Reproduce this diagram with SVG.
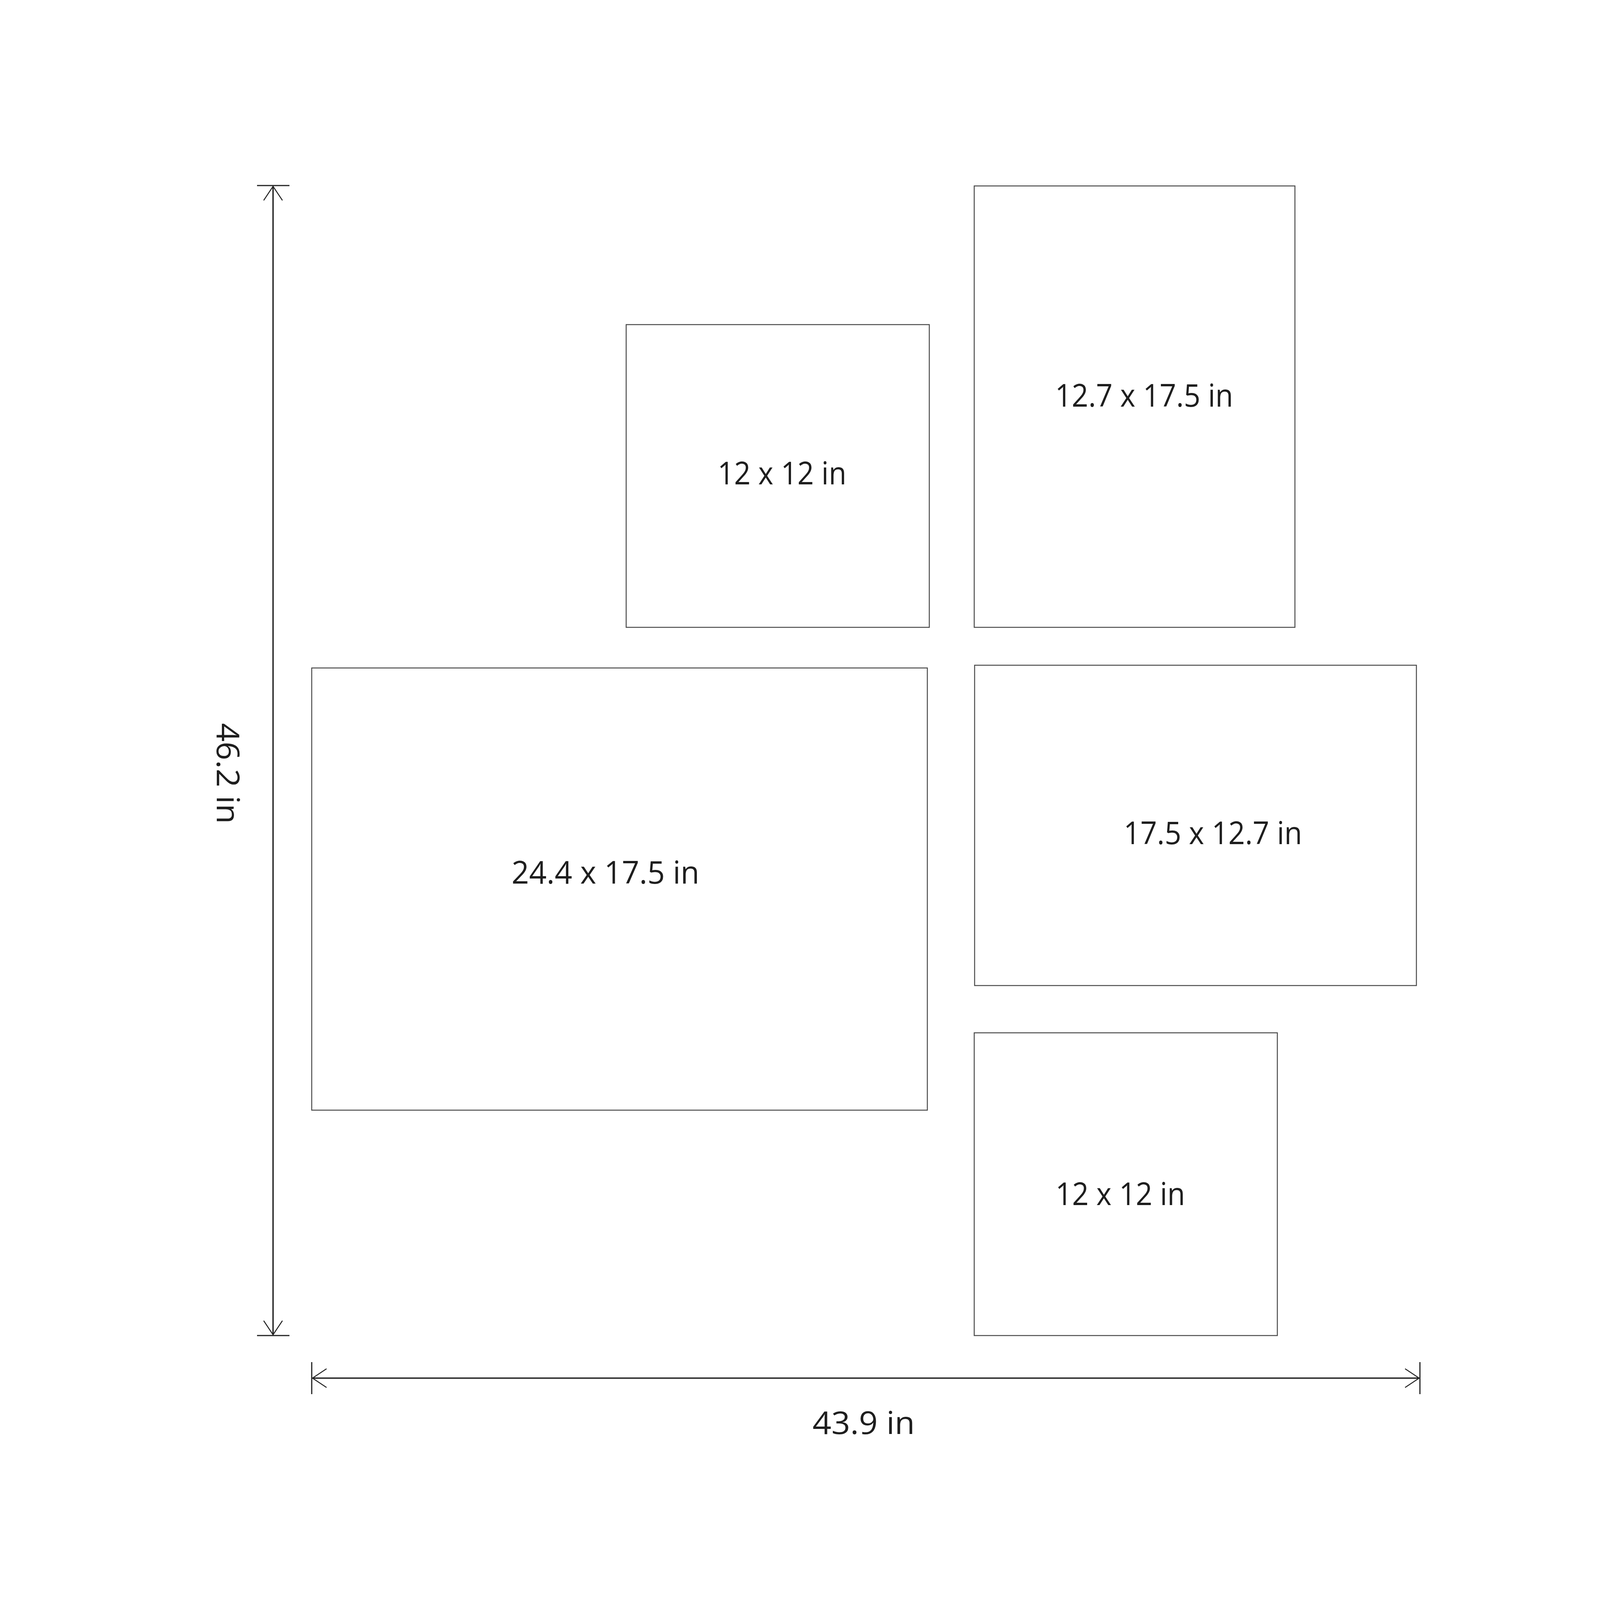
<svg xmlns="http://www.w3.org/2000/svg" width="4169" height="4169" viewBox="0 0 4169 4169">
  <defs>
    <style>
      .frame { fill: none; stroke: #4a4a4a; stroke-width: 2.5; }
      .dim { fill: none; stroke: #222222; stroke-width: 3.5; }
      .tick { fill: none; stroke: #222222; stroke-width: 3; }
      .lbl { font-family: "Open Sans", "Liberation Sans", sans-serif; font-size: 80px; font-weight: 400; fill: #1e1e1e; text-anchor: middle; }
    </style>
    <marker id="chev" viewBox="-40 -30 44 60" refX="0" refY="0" markerWidth="44" markerHeight="60" markerUnits="userSpaceOnUse" orient="auto-start-reverse">
      <path d="M-36,-24 L0,0 L-36,24" fill="none" stroke="#222222" stroke-width="2.5"/>
    </marker>
  </defs>
  <rect width="4169" height="4169" fill="#ffffff"/>

  <g id="connectors">
    <line class="tick" x1="658" y1="475" x2="741" y2="475"/>
    <line class="tick" x1="658" y1="3419" x2="741" y2="3419"/>
    <line class="dim" x1="699" y1="477" x2="699" y2="3417" marker-start="url(#chev)" marker-end="url(#chev)"/>
    <line class="tick" x1="798" y1="3487" x2="798" y2="3569"/>
    <line class="tick" x1="3635" y1="3487" x2="3635" y2="3569"/>
    <line class="dim" x1="800" y1="3528" x2="3633" y2="3528" marker-start="url(#chev)" marker-end="url(#chev)"/>
  </g>

  <g id="frame-12x12-top">
    <rect class="frame" x="1603" y="831" width="776" height="775"/>
    <text class="lbl" x="2002" y="1240" textLength="330" lengthAdjust="spacingAndGlyphs">12 x 12 in</text>
  </g>
  <g id="frame-12-7x17-5">
    <rect class="frame" x="2494" y="476" width="821" height="1130"/>
    <text class="lbl" x="2929" y="1041" textLength="456" lengthAdjust="spacingAndGlyphs">12.7 x 17.5 in</text>
  </g>
  <g id="frame-24-4x17-5">
    <rect class="frame" x="798" y="1710" width="1576" height="1132"/>
    <text class="lbl" x="1550" y="2262" textLength="481" lengthAdjust="spacingAndGlyphs">24.4 x 17.5 in</text>
  </g>
  <g id="frame-17-5x12-7">
    <rect class="frame" x="2495" y="1703" width="1131" height="820"/>
    <text class="lbl" x="3105" y="2161" textLength="457" lengthAdjust="spacingAndGlyphs">17.5 x 12.7 in</text>
  </g>
  <g id="frame-12x12-bottom">
    <rect class="frame" x="2494" y="2644" width="776" height="775"/>
    <text class="lbl" x="2868" y="3085" textLength="332" lengthAdjust="spacingAndGlyphs">12 x 12 in</text>
  </g>

  <g id="dim-width-label">
    <text class="lbl" x="2211" y="3671" textLength="262" lengthAdjust="spacingAndGlyphs">43.9 in</text>
  </g>
  <g id="dim-height-label">
    <text class="lbl" x="555" y="1980" transform="rotate(90 555 1980)" textLength="258" lengthAdjust="spacingAndGlyphs">46.2 in</text>
  </g>
</svg>
